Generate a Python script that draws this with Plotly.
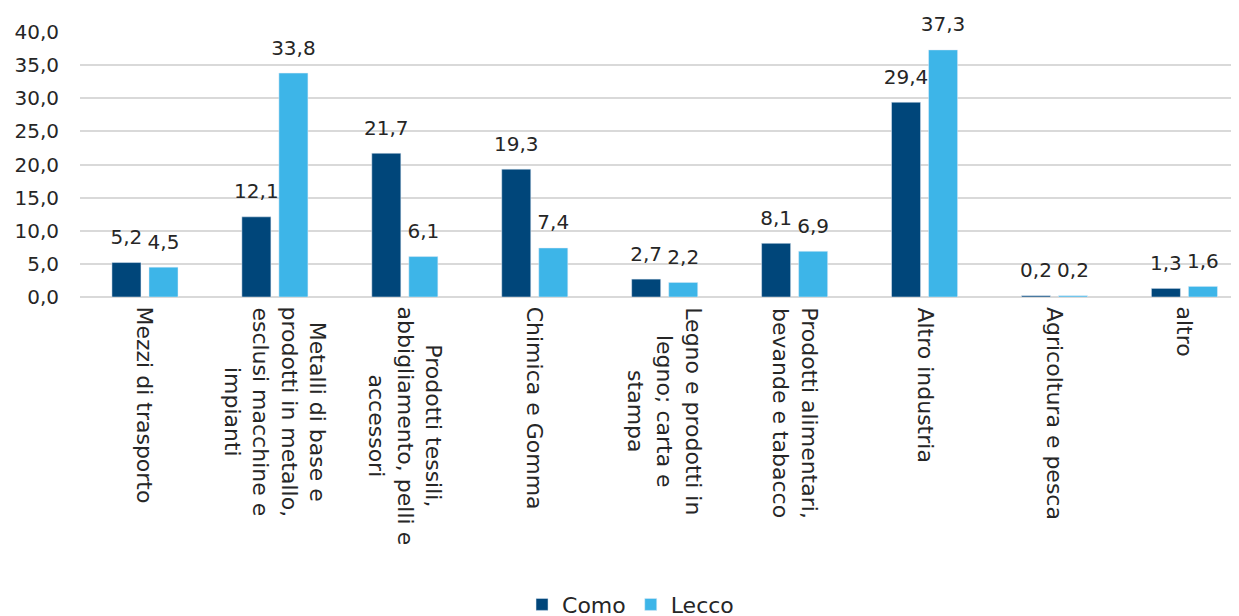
import plotly.graph_objects as go

categories = [
    "Mezzi di trasporto",
    "Metalli di base e<br>prodotti in metallo,<br>esclusi macchine e<br>impianti",
    "Prodotti tessili,<br>abbigliamento, pelli e<br>accessori",
    "Chimica e Gomma",
    "Legno e prodotti in<br>legno; carta e<br>stampa",
    "Prodotti alimentari,<br>bevande e tabacco",
    "Altro industria",
    "Agricoltura e pesca",
    "altro",
]
como = [5.2, 12.1, 21.7, 19.3, 2.7, 8.1, 29.4, 0.2, 1.3]
lecco = [4.5, 33.8, 6.1, 7.4, 2.2, 6.9, 37.3, 0.2, 1.6]
y_ticks = [0, 5, 10, 15, 20, 25, 30, 35, 40]

FONT = "Century Gothic, DejaVu Sans, sans-serif"
TXT = "#262626"
GAP = 0.43

xs = list(range(len(categories)))
fig = go.Figure()
for name, vals, col in [("Como", como, "#00467A"), ("Lecco", lecco, "#3DB5E8")]:
    fig.add_trace(go.Bar(
        x=xs, y=vals, name=name, marker_color=col, offsetgroup=name,
    ))
for name, vals in [("Como", como), ("Lecco", lecco)]:
    fig.add_trace(go.Scatter(
        x=xs, y=vals, mode="markers+text", offsetgroup=name,
        marker=dict(size=20, opacity=0), showlegend=False, hoverinfo="skip",
        texttemplate="%{y:.1f}", textposition="top center",
        textfont=dict(size=20, color=TXT, family=FONT), cliponaxis=False,
    ))

for i, c in enumerate(categories):
    fig.add_annotation(
        x=i, y=-0.03, xref="x", yref="paper", text=c, showarrow=False,
        textangle=90, xanchor="center", yanchor="top", align="center",
        font=dict(size=22, color=TXT, family=FONT),
    )

fig.update_layout(
    width=1239, height=616,
    margin=dict(l=72, r=8, t=24, b=327, autoexpand=False),
    paper_bgcolor="white", plot_bgcolor="white",
    separators=",.",
    barmode="group", bargap=GAP, bargroupgap=0.216,
    scattermode="group", scattergap=GAP,
    font=dict(family=FONT, color=TXT, size=20),
    showlegend=True,
    legend=dict(orientation="h", x=0.475, xanchor="center",
                y=-1.24, yanchor="bottom",
                font=dict(size=22, color=TXT, family=FONT),
                traceorder="normal"),
)
fig.update_xaxes(range=[-0.5, 8.42], showticklabels=False, showgrid=False,
                 zeroline=False, showline=False, ticks="", automargin=False)
fig.update_yaxes(range=[0, 40], tickvals=y_ticks, tickformat=".1f",
                 showgrid=True, gridcolor="#D9D9D9", gridwidth=1.5,
                 zeroline=True, zerolinecolor="#D9D9D9", zerolinewidth=1.5,
                 showline=False, ticks="", ticklabelstandoff=20, automargin=False,
                 tickfont=dict(size=20, color=TXT, family=FONT))

fig.write_html("out.html")
